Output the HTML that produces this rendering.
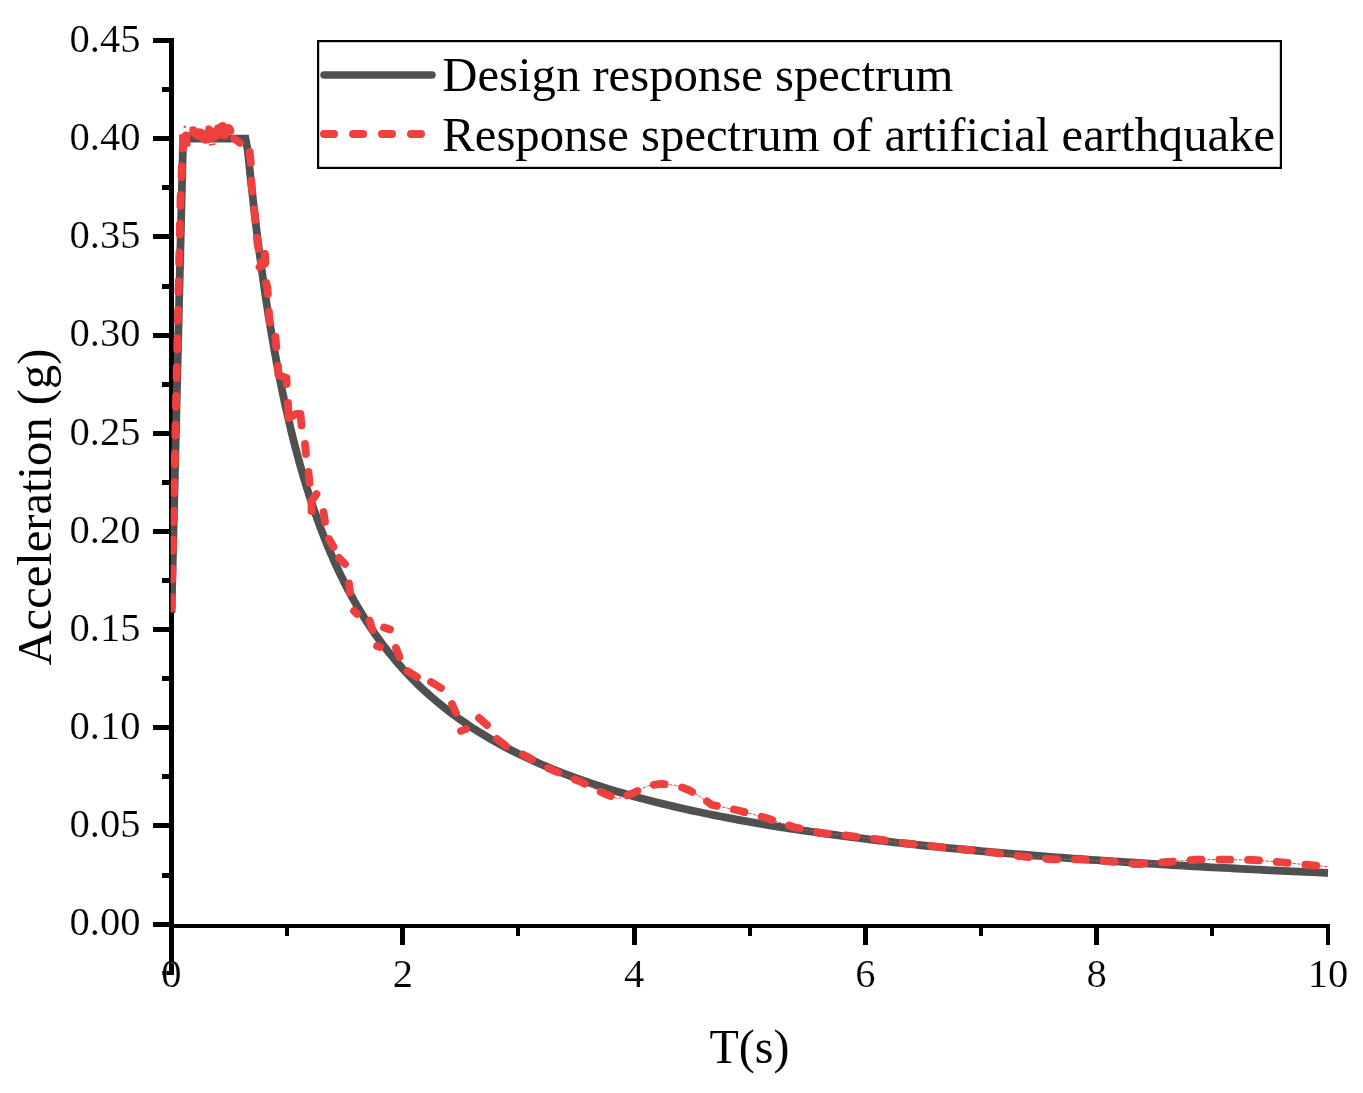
<!DOCTYPE html>
<html><head><meta charset="utf-8"><style>
html,body{margin:0;padding:0;background:#fff;}
svg{display:block;will-change:transform;}
text{font-family:"Liberation Serif",serif;fill:#000;}
.tl text{stroke:#fff;stroke-width:0.2px;}
</style></head><body>
<svg width="1363" height="1093" viewBox="0 0 1363 1093">
<rect width="1363" height="1093" fill="#fff"/>
<defs><clipPath id="pc"><rect x="170.7" y="0" width="1200" height="1093"/></clipPath></defs>
<g fill="#000" shape-rendering="crispEdges">
<rect x="169" y="38" width="5" height="937"/>
<rect x="162" y="971" width="12" height="4"/>
<rect x="169" y="924" width="1161" height="4"/>
<rect x="153" y="38" width="16" height="5"/>
<rect x="153" y="136" width="16" height="5"/>
<rect x="153" y="234" width="16" height="5"/>
<rect x="153" y="333" width="16" height="5"/>
<rect x="153" y="431" width="16" height="5"/>
<rect x="153" y="529" width="16" height="5"/>
<rect x="153" y="627" width="16" height="5"/>
<rect x="153" y="725" width="16" height="5"/>
<rect x="153" y="823" width="16" height="5"/>
<rect x="153" y="922" width="16" height="5"/>
<rect x="162" y="87" width="7" height="5"/>
<rect x="162" y="185" width="7" height="5"/>
<rect x="162" y="284" width="7" height="5"/>
<rect x="162" y="382" width="7" height="5"/>
<rect x="162" y="480" width="7" height="5"/>
<rect x="162" y="578" width="7" height="5"/>
<rect x="162" y="676" width="7" height="5"/>
<rect x="162" y="774" width="7" height="5"/>
<rect x="162" y="873" width="7" height="5"/>
<rect x="169" y="928" width="5" height="17"/>
<rect x="400" y="928" width="5" height="17"/>
<rect x="632" y="928" width="5" height="17"/>
<rect x="863" y="928" width="5" height="17"/>
<rect x="1094" y="928" width="5" height="17"/>
<rect x="1326" y="928" width="4" height="17"/>
<rect x="285" y="928" width="4" height="8"/>
<rect x="516" y="928" width="4" height="8"/>
<rect x="748" y="928" width="4" height="8"/>
<rect x="979" y="928" width="4" height="8"/>
<rect x="1210" y="928" width="4" height="8"/>
</g>
<g font-size="40.6" class="tl">
<text x="140.5" y="51.9" text-anchor="end">0.45</text>
<text x="140.5" y="150.1" text-anchor="end">0.40</text>
<text x="140.5" y="248.2" text-anchor="end">0.35</text>
<text x="140.5" y="346.4" text-anchor="end">0.30</text>
<text x="140.5" y="444.6" text-anchor="end">0.25</text>
<text x="140.5" y="542.8" text-anchor="end">0.20</text>
<text x="140.5" y="640.9" text-anchor="end">0.15</text>
<text x="140.5" y="739.1" text-anchor="end">0.10</text>
<text x="140.5" y="837.3" text-anchor="end">0.05</text>
<text x="140.5" y="935.4" text-anchor="end">0.00</text>
<text x="171.5" y="987" text-anchor="middle">0</text>
<text x="402.8" y="987" text-anchor="middle">2</text>
<text x="634.1" y="987" text-anchor="middle">4</text>
<text x="865.4" y="987" text-anchor="middle">6</text>
<text x="1096.7" y="987" text-anchor="middle">8</text>
<text x="1328.0" y="987" text-anchor="middle">10</text>
</g>
<text font-size="48.6" transform="translate(51.3,665.5) rotate(-90)">Acceleration (g)</text>
<text font-size="48" x="749.5" y="1063" text-anchor="middle">T(s)</text>
<g clip-path="url(#pc)">
<path d="M171.5,612.8 L183.1,138.6 L245.5,138.6 L247.8,150.5 L249.0,162.1 L250.1,173.3 L251.3,184.2 L252.5,194.7 L253.6,205.0 L254.8,215.0 L255.9,224.7 L257.1,234.2 L258.2,243.4 L259.4,252.3 L260.6,261.0 L261.7,269.5 L262.9,277.8 L264.0,285.9 L265.2,293.8 L266.3,301.5 L267.5,309.0 L268.6,316.3 L269.8,323.4 L271.0,330.4 L272.1,337.2 L273.3,343.9 L274.4,350.4 L275.6,356.8 L276.7,363.0 L277.9,369.1 L279.1,375.1 L280.2,380.9 L281.4,386.6 L282.5,392.2 L283.7,397.7 L284.8,403.1 L286.0,408.4 L287.2,413.5 L288.3,418.6 L289.5,423.5 L290.6,428.4 L291.8,433.2 L292.9,437.8 L294.1,442.4 L295.2,446.9 L296.4,451.3 L297.6,455.7 L298.7,459.9 L299.9,464.1 L301.0,468.2 L302.2,472.2 L303.3,476.2 L304.5,480.1 L305.7,483.9 L306.8,487.7 L308.0,491.4 L309.1,495.0 L310.3,498.6 L311.4,502.1 L312.6,505.6 L313.7,509.0 L314.9,512.3 L316.1,515.6 L317.2,518.9 L318.4,522.0 L319.5,525.2 L320.7,528.3 L321.8,531.3 L323.0,534.3 L324.2,537.3 L325.3,540.2 L326.5,543.0 L327.6,545.9 L328.8,548.6 L329.9,551.4 L331.1,554.1 L332.3,556.7 L333.4,559.4 L334.6,562.0 L335.7,564.5 L336.9,567.0 L338.0,569.5 L339.2,571.9 L340.3,574.4 L341.5,576.7 L342.7,579.1 L343.8,581.4 L345.0,583.7 L346.1,585.9 L347.3,588.2 L348.4,590.4 L349.6,592.5 L350.8,594.7 L351.9,596.8 L353.1,598.9 L354.2,600.9 L355.4,602.9 L356.5,604.9 L357.7,606.9 L358.9,608.9 L360.0,610.8 L361.2,612.7 L362.3,614.6 L363.5,616.5 L364.6,618.3 L365.8,620.1 L366.9,621.9 L368.1,623.7 L369.3,625.5 L370.4,627.2 L371.6,628.9 L372.7,630.6 L373.9,632.3 L375.0,634.0 L376.2,635.6 L377.4,637.2 L378.5,638.8 L379.7,640.4 L380.8,642.0 L382.0,643.5 L383.1,645.0 L384.3,646.6 L385.5,648.1 L386.6,649.5 L387.8,651.0 L388.9,652.5 L390.1,653.9 L391.2,655.3 L392.4,656.7 L393.5,658.1 L394.7,659.5 L395.9,660.9 L397.0,662.2 L398.2,663.5 L399.3,664.9 L400.5,666.2 L401.6,667.5 L402.8,668.8 L408.6,675.0 L414.4,680.9 L420.1,686.6 L425.9,692.0 L431.7,697.1 L437.5,702.1 L443.3,706.8 L449.1,711.3 L454.8,715.6 L460.6,719.8 L466.4,723.8 L472.2,727.7 L478.0,731.4 L483.8,734.9 L489.5,738.4 L495.3,741.7 L501.1,744.9 L506.9,748.0 L512.7,751.0 L518.4,753.8 L524.2,756.6 L530.0,759.3 L535.8,761.9 L541.6,764.5 L547.4,766.9 L553.1,769.3 L558.9,771.6 L564.7,773.9 L570.5,776.0 L576.3,778.1 L582.1,780.2 L587.8,782.2 L593.6,784.1 L599.4,786.0 L605.2,787.9 L611.0,789.7 L616.8,791.4 L622.5,793.1 L628.3,794.8 L634.1,796.4 L639.9,798.0 L645.7,799.5 L651.4,801.0 L657.2,802.5 L663.0,803.9 L668.8,805.3 L674.6,806.6 L680.4,808.0 L686.1,809.3 L691.9,810.6 L697.7,811.8 L703.5,813.0 L709.3,814.2 L715.1,815.4 L720.8,816.5 L726.6,817.6 L732.4,818.7 L738.2,819.8 L744.0,820.9 L749.7,821.9 L755.5,822.9 L761.3,823.9 L767.1,824.9 L772.9,825.8 L778.7,826.8 L784.4,827.7 L790.2,828.6 L796.0,829.5 L801.8,830.3 L807.6,831.2 L813.4,832.0 L819.1,832.8 L824.9,833.6 L830.7,834.4 L836.5,835.2 L842.3,836.0 L848.1,836.7 L853.8,837.5 L859.6,838.2 L865.4,838.9 L871.2,839.6 L877.0,840.3 L882.7,841.0 L888.5,841.7 L894.3,842.3 L900.1,843.0 L905.9,843.6 L911.7,844.2 L917.4,844.9 L923.2,845.5 L929.0,846.1 L934.8,846.7 L940.6,847.2 L946.4,847.8 L952.1,848.4 L957.9,848.9 L963.7,849.5 L969.5,850.0 L975.3,850.5 L981.0,851.1 L986.8,851.6 L992.6,852.1 L998.4,852.6 L1004.2,853.1 L1010.0,853.6 L1015.7,854.1 L1021.5,854.5 L1027.3,855.0 L1033.1,855.5 L1038.9,855.9 L1044.7,856.4 L1050.4,856.8 L1056.2,857.3 L1062.0,857.7 L1067.8,858.1 L1073.6,858.6 L1079.4,859.0 L1085.1,859.4 L1090.9,859.8 L1096.7,860.2 L1102.5,860.6 L1108.3,861.0 L1114.0,861.4 L1119.8,861.7 L1125.6,862.1 L1131.4,862.5 L1137.2,862.9 L1143.0,863.2 L1148.7,863.6 L1154.5,863.9 L1160.3,864.3 L1166.1,864.6 L1171.9,865.0 L1177.7,865.3 L1183.4,865.7 L1189.2,866.0 L1195.0,866.3 L1200.8,866.6 L1206.6,867.0 L1212.3,867.3 L1218.1,867.6 L1223.9,867.9 L1229.7,868.2 L1235.5,868.5 L1241.3,868.8 L1247.0,869.1 L1252.8,869.4 L1258.6,869.7 L1264.4,870.0 L1270.2,870.3 L1276.0,870.5 L1281.7,870.8 L1287.5,871.1 L1293.3,871.4 L1299.1,871.6 L1304.9,871.9 L1310.7,872.2 L1316.4,872.4 L1322.2,872.7 L1328.0,873.0" fill="none" stroke="#505050" stroke-width="7.8" stroke-linejoin="miter"/>
<path d="M540.0,764.5 L553.2,770.4 L580.3,781.6 L605.4,794.1 L618.0,798.8 L632.4,793.5 L648.3,785.6 L660.8,783.8 L677.3,785.6 L688.6,790.0 L698.5,795.5 L711.7,804.7 L720.0,806.5 L739.6,810.8 L766.9,818.2 L794.2,827.3 L822.4,833.1 L851.4,836.1 L879.6,839.7 L908.7,843.7 L934.2,846.3 L940.0,847.0 L966.2,849.6 L994.7,852.8 L1023.2,856.5 L1051.7,859.3 L1080.2,859.3 L1108.7,861.3 L1136.0,864.2 L1140.0,864.0 L1167.0,862.0 L1196.3,859.6 L1224.8,859.6 L1253.3,860.0 L1281.8,862.4 L1310.3,865.1 L1328.8,866.7" fill="none" stroke="#ef4040" stroke-width="1" stroke-dasharray="3 1.5"/>
<path d="M179.2,134.8 L181.9,134.2 L183.2,132.3 L185.9,131.2 L189.2,132.2 L189.5,127.2 L191.8,126.2 L195.4,126.6 L197.1,128.5 L199.4,128.2 L202.7,128.9 L205.0,130.5 L205.7,126.2 L208.3,125.2 L211.0,125.9 L213.6,128.5 L214.9,125.6 L218.9,123.6 L221.5,121.9 L224.8,122.3 L226.8,124.2 L229.4,123.9 L232.1,125.6 L234.1,128.9 L234.4,132.2 L232.7,134.2 L229.4,134.8 L227.5,138.8 L225.5,139.8 L222.8,138.8 L220.2,138.1 L216.2,140.8 L212.3,142.1 L208.3,143.4 L204.3,143.7 L201.7,142.4 L199.7,140.1 L196.4,139.4 L192.5,136.8 L190.5,134.8 L190.5,146.0 L186.5,147.4 L185.9,151.0 L182.5,152.0 L179.6,150.7Z" fill="#ef4040"/>
<g fill="none" stroke="#ef4040" stroke-width="7.8" stroke-linecap="round" stroke-linejoin="round">
<path d="M265,254 L265.5,263 L259.5,267"/>
<path d="M209.5,145 L215,144" stroke-width="1.6"/>
<circle cx="184.7" cy="126.8" r="1.2" fill="#ef4040" stroke="none"/>
<path d="M171.5,612.8 L176.5,380.0 L180.5,200.0 L182.5,150.0 L184.0,136.0" stroke-dasharray="11 17.75" stroke-dashoffset="24.16"/>
<path d="M244.0,145.0 L249.5,150.0 L251.0,165.0 L251.5,185.0 L254.7,214.7 L257.5,243.5 L261.0,262.0" stroke-dasharray="11 17.75" stroke-dashoffset="19.38"/>
<path d="M261.0,262.0 L264.5,276.0 L267.5,288.0 L269.4,319.0 L270.5,328.0" stroke-dasharray="11 17.75" stroke-dashoffset="7.05"/>
<path d="M540.0,764.5 L553.2,770.4 L580.3,781.6 L605.4,794.1 L618.0,798.8" stroke-dasharray="11 17.75" stroke-dashoffset="19.79"/>
<path d="M618.0,798.8 L632.4,793.5 L648.3,785.6 L660.8,783.8 L677.3,785.6 L688.6,790.0 L698.5,795.5 L711.7,804.7 L720.0,806.5" stroke-dasharray="11 17.75" stroke-dashoffset="18.86"/>
<path d="M720.0,806.5 L739.6,810.8 L766.9,818.2 L794.2,827.3 L822.4,833.1 L851.4,836.1 L879.6,839.7 L908.7,843.7 L934.2,846.3 L940.0,847.0" stroke-dasharray="11 17.75" stroke-dashoffset="14.58"/>
<path d="M940.0,847.0 L966.2,849.6 L994.7,852.8 L1023.2,856.5 L1051.7,859.3 L1080.2,859.3 L1108.7,861.3 L1136.0,864.2 L1140.0,864.0" stroke-dasharray="11 17.75" stroke-dashoffset="8.12"/>
<path d="M1140.0,864.0 L1167.0,862.0 L1196.3,859.6 L1224.8,859.6 L1253.3,860.0 L1281.8,862.4 L1310.3,865.1 L1328.8,866.7" stroke-dasharray="11 17.75" stroke-dashoffset="6.78"/>
<path d="M234.0,138.5 L240.0,143.0"/>
<path d="M275.5,337.0 L276.3,347.0"/>
<path d="M278.0,366.0 L278.3,375.0 L286.5,378.0 L286.7,384.0"/>
<path d="M288.0,403.0 L288.5,418.0 L296.0,414.0 L300.5,414.0 L301.5,425.5"/>
<path d="M305.0,444.0 L306.0,454.0"/>
<path d="M308.5,472.0 L309.5,483.0"/>
<path d="M316.5,494.0 L311.5,501.0 L311.5,511.0"/>
<path d="M323.5,512.0 L325.0,522.0"/>
<path d="M329.0,539.0 L333.5,547.0"/>
<path d="M339.0,558.0 L345.0,564.0"/>
<path d="M349.0,583.5 L350.0,592.5"/>
<path d="M354.0,611.0 L357.0,614.0"/>
<path d="M369.5,620.5 L372.5,630.0"/>
<path d="M384.0,627.5 L390.0,629.5"/>
<path d="M377.0,646.0 L380.0,647.0"/>
<path d="M396.0,648.0 L399.5,657.0"/>
<path d="M407.5,671.0 L417.0,677.0"/>
<path d="M431.0,682.0 L441.0,688.0"/>
<path d="M452.0,704.0 L456.0,713.0"/>
<path d="M461.0,731.0 L466.0,729.0"/>
<path d="M479.0,718.0 L487.0,725.0"/>
<path d="M497.0,739.0 L506.0,746.0"/>
<path d="M523.0,754.5 L532.0,759.5"/>
</g>
</g>
<rect x="318.1" y="41.1" width="962.8" height="126.8" fill="none" stroke="#000" stroke-width="2.2"/>
<line x1="324" y1="75" x2="432" y2="75" stroke="#505050" stroke-width="7.5" stroke-linecap="round"/>
<line x1="324" y1="134" x2="424" y2="134" stroke="#ef4040" stroke-width="8" stroke-linecap="round" stroke-dasharray="10 19"/>
<g font-size="48.7">
<text x="442.3" y="91.4">Design response spectrum</text>
<text x="442.3" y="150.8">Response spectrum of artificial earthquake</text>
</g>
</svg>
</body></html>
